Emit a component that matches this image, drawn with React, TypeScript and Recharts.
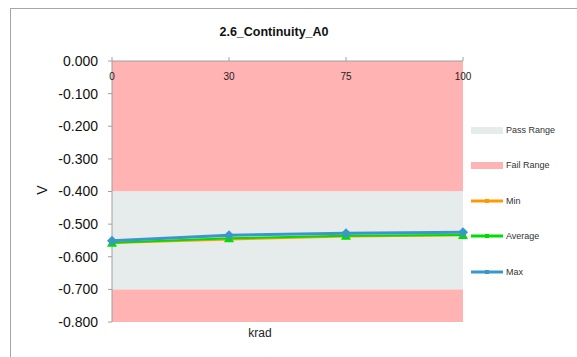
import React from 'react';
import { LineChart, Line, XAxis, YAxis, ReferenceArea } from 'recharts';

const kradLabels = ['0', '30', '75', '100'];
const minValues = [-0.558, -0.547, -0.538, -0.534];
const avgValues = [-0.557, -0.543, -0.536, -0.533];
const maxValues = [-0.551, -0.534, -0.528, -0.525];
const yTicks = [0, -0.1, -0.2, -0.3, -0.4, -0.5, -0.6, -0.7, -0.8];
const passRange = [-0.7, -0.4];
const failRangeUpper = [-0.4, 0];
const failRangeLower = [-0.8, -0.7];

const data = kradLabels.map((k, i) => ({
  krad: k,
  Min: minValues[i],
  Average: avgValues[i],
  Max: maxValues[i],
}));

const FONT = '"Liberation Sans", Arial, sans-serif';
const PINK = '#FFB3B3';
const GRAY_BAND = '#E6EBEB';
const ORANGE = '#FF9900';
const GREEN = '#00DD00';
const BLUE = '#3A97C9';

const XTick = (props: any) => {
  const { x, y, payload } = props;
  return (
    <text x={x} y={y + 23} textAnchor="middle" fontSize={10} fill="#222" fontFamily={FONT}>
      {payload.value}
    </text>
  );
};

const Diamond = (props: any) => {
  const { cx, cy } = props;
  if (cx == null || cy == null) return null;
  return <path d={`M${cx},${cy - 5}L${cx + 5},${cy}L${cx},${cy + 5}L${cx - 5},${cy}Z`} fill={BLUE} />;
};
const Tri = (props: any) => {
  const { cx, cy } = props;
  if (cx == null || cy == null) return null;
  return <path d={`M${cx},${cy - 5}L${cx + 5},${cy + 4}L${cx - 5},${cy + 4}Z`} fill={GREEN} />;
};
const SmallDot = (props: any) => {
  const { cx, cy } = props;
  if (cx == null || cy == null) return null;
  return <rect x={cx - 2.5} y={cy - 2.5} width={5} height={5} fill={ORANGE} />;
};

const legendItems = [
  { name: 'Pass Range', type: 'box', color: GRAY_BAND },
  { name: 'Fail Range', type: 'box', color: PINK },
  { name: 'Min', type: 'line', color: ORANGE },
  { name: 'Average', type: 'line', color: GREEN },
  { name: 'Max', type: 'line', color: BLUE },
];

const LegendBlock = () => (
  <div style={{ position: 'absolute', left: 470, top: 112, width: 100, fontFamily: FONT, fontSize: 9, color: '#333' }}>
    {legendItems.map((it) => (
      <div key={it.name} style={{ height: 35.5, display: 'flex', alignItems: 'center' }}>
        <svg width={35} height={10} style={{ display: 'block' }}>
          {it.type === 'box' ? (
            <rect x={1} y={2} width={32} height={7} fill={it.color} />
          ) : (
            <g>
              <line x1={1} y1={5} x2={33} y2={5} stroke={it.color} strokeWidth={3} />
              <rect x={15} y={3} width={4} height={4} fill={it.color} />
            </g>
          )}
        </svg>
        <span style={{ marginLeft: 1 }}>{it.name}</span>
      </div>
    ))}
  </div>
);

export default function App() {
  return (
    <div style={{ position: 'absolute', left: 0, top: 0, width: 577, height: 357, overflow: 'hidden', background: '#fff' }}>
      <div style={{ position: 'absolute', left: 10, top: 8, width: 800, height: 600, border: '1px solid #A6A6A6' }} />
      <div style={{ position: 'absolute', left: 174, width: 200, top: 25, textAlign: 'center', fontFamily: FONT, fontWeight: 'bold', fontSize: 12.5, color: '#111' }}>
        2.6_Continuity_A0
      </div>
      <div style={{ position: 'absolute', left: 0, top: 0 }}>
        <LineChart width={577} height={357} data={data} margin={{ top: 41, right: 114, bottom: 35, left: 0 }}>
          <ReferenceArea y1={failRangeUpper[0]} y2={failRangeUpper[1]} fill={PINK} fillOpacity={1} stroke="none" ifOverflow="visible" />
          <ReferenceArea y1={passRange[0]} y2={passRange[1]} fill={GRAY_BAND} fillOpacity={1} stroke="none" ifOverflow="visible" />
          <ReferenceArea y1={failRangeLower[0]} y2={failRangeLower[1]} fill={PINK} fillOpacity={1} stroke="none" ifOverflow="visible" />
          <XAxis
            dataKey="krad"
            orientation="top"
            height={20}
            tickSize={4}
            tickMargin={0}
            stroke="#A0A0A0"
            tick={<XTick />}
            interval={0}
          />
          <YAxis
            type="number"
            domain={[-0.8, 0]}
            ticks={yTicks}
            width={112}
            tickSize={4}
            tickMargin={10}
            stroke="#A0A0A0"
            tick={{ fill: '#111', fontSize: 14, fontFamily: FONT }}
            tickFormatter={(v: number) => v.toFixed(3)}
            interval={0}
          />
          <Line dataKey="Min" stroke={ORANGE} strokeWidth={2} dot={<SmallDot />} isAnimationActive={false} />
          <Line dataKey="Average" stroke={GREEN} strokeWidth={2} dot={<Tri />} isAnimationActive={false} />
          <Line dataKey="Max" stroke={BLUE} strokeWidth={3} dot={<Diamond />} isAnimationActive={false} />
        </LineChart>
      </div>
      <LegendBlock />
      <div style={{ position: 'absolute', left: 230, width: 60, top: 326, textAlign: 'center', fontFamily: FONT, fontSize: 12, color: '#222' }}>
        krad
      </div>
      <div style={{ position: 'absolute', left: 30, top: 182, width: 24, height: 16, textAlign: 'center', fontFamily: FONT, fontSize: 14, color: '#111', transform: 'rotate(-90deg)' }}>
        V
      </div>
    </div>
  );
}
